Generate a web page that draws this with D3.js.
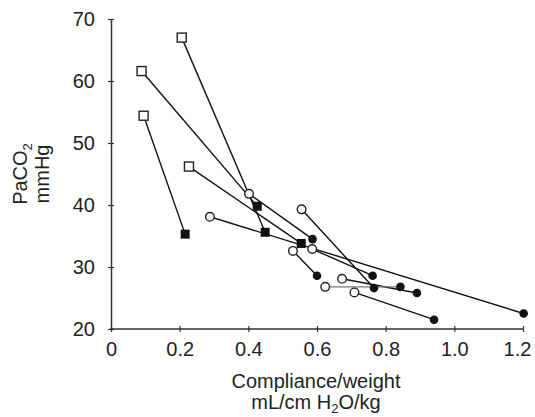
<!DOCTYPE html>
<html>
<head>
<meta charset="utf-8">
<script src="https://cdn.jsdelivr.net/npm/d3@7"></script>
<style>
  body { margin: 0; background: #fff; }
  text { font-family: "Liberation Sans", Arial, sans-serif; fill: #222; }
</style>
</head>
<body>
<div id="chart"></div>
<script>
// x = compliance/weight, y = PaCO2 ; pairs joined by index
const openSquares   = [[0.206, 67.0], [0.089, 61.6], [0.095, 54.4], [0.227, 46.2]];
const filledSquares = [[0.449, 35.6], [0.426, 39.8], [0.216, 35.3], [0.554, 33.8]];
const openCircles   = [[0.402, 41.8], [0.288, 38.1], [0.555, 39.3], [0.530, 32.6],
                       [0.586, 32.9], [0.673, 28.1], [0.624, 26.8], [0.709, 25.9]];
const filledCircles = [[0.587, 34.5], [1.202, 22.5], [0.766, 26.6], [0.600, 28.6],
                       [0.762, 28.6], [0.891, 25.8], [0.843, 26.8], [0.941, 21.5]];
const xTicks = [0, 0.2, 0.4, 0.6, 0.8, 1.0, 1.2];
const yTicks = [20, 30, 40, 50, 60, 70];

let w = 535;
let h = 417;

const xScale = d3.scaleLinear().domain([0, 1.2]).range([111, 523]);
const yScale = d3.scaleLinear().domain([20, 70]).range([329, 19]);

const svg = d3.select("#chart")
              .append("svg")
              .attr("width", w)
              .attr("height", h);

// axes
const xAxis = d3.axisBottom(xScale)
                .tickValues(xTicks)
                .tickSizeOuter(0)
                .tickSizeInner(3)
                .tickPadding(10)
                .tickFormat(d => d === 0 ? "0" : d.toFixed(1));

const yAxis = d3.axisLeft(yScale)
                .tickValues(yTicks)
                .tickSizeOuter(0)
                .tickSizeInner(3)
                .tickPadding(13);

const gx = svg.append("g")
   .attr("transform", "translate(0," + yScale(20) + ")")
   .call(xAxis);
gx.select(".domain").attr("d", "M" + (xScale(0) - 1) + ",0H" + xScale(1.2));

const gy = svg.append("g")
   .attr("transform", "translate(" + xScale(0) + ",0)")
   .call(yAxis);

[gx, gy].forEach(g => {
  g.select(".domain").attr("stroke", "#333").attr("stroke-width", 1.5);
  g.selectAll(".tick line").attr("stroke", "#333").attr("stroke-width", 1.2);
  g.selectAll(".tick text").attr("font-size", 20).attr("fill", "#222")
   .attr("font-family", "Liberation Sans, Arial, sans-serif");
});
gx.selectAll(".tick line").attr("y1", -3).attr("y2", 3);
gy.selectAll(".tick line").attr("x1", -3).attr("x2", 3);
// last label sits a little left so it stays inside the frame
gx.selectAll(".tick text").filter(d => d === 1.2).attr("dx", -6);

// connecting lines
const sqPairs = openSquares.map((d, i) => [d, filledSquares[i]]);
const ciPairs = openCircles.map((d, i) => [d, filledCircles[i]]);

svg.selectAll("line.link")
   .data(sqPairs.concat(ciPairs))
   .enter()
   .append("line")
   .attr("class", "link")
   .attr("x1", d => xScale(d[0][0]))
   .attr("y1", d => yScale(d[0][1]))
   .attr("x2", d => xScale(d[1][0]))
   .attr("y2", d => yScale(d[1][1]))
   .attr("stroke", (d, i) => i === 4 + 6 ? "#777" : "#111")
   .attr("stroke-width", 1.4);

// markers
const s = 9;
svg.selectAll("rect.open")
   .data(openSquares).enter().append("rect")
   .attr("x", d => xScale(d[0]) - s / 2)
   .attr("y", d => yScale(d[1]) - s / 2)
   .attr("width", s).attr("height", s)
   .attr("fill", "#fff").attr("stroke", "#222").attr("stroke-width", 1.4);

svg.selectAll("rect.filled")
   .data(filledSquares).enter().append("rect")
   .attr("x", d => xScale(d[0]) - s / 2)
   .attr("y", d => yScale(d[1]) - s / 2)
   .attr("width", s).attr("height", s)
   .attr("fill", "#111");

svg.selectAll("circle.open")
   .data(openCircles).enter().append("circle")
   .attr("cx", d => xScale(d[0]))
   .attr("cy", d => yScale(d[1]))
   .attr("r", 4.3)
   .attr("fill", "#fff").attr("stroke", "#222").attr("stroke-width", 1.4);

svg.selectAll("circle.filled")
   .data(filledCircles).enter().append("circle")
   .attr("cx", d => xScale(d[0]))
   .attr("cy", d => yScale(d[1]))
   .attr("r", 4.3)
   .attr("fill", "#111");

// titles
svg.append("text")
   .attr("x", 316).attr("y", 388)
   .attr("text-anchor", "middle").attr("font-size", 20)
   .text("Compliance/weight");

const xt2 = svg.append("text")
   .attr("x", 316).attr("y", 409)
   .attr("text-anchor", "middle").attr("font-size", 20);
xt2.append("tspan").text("mL/cm H");
xt2.append("tspan").attr("font-size", 13).attr("dy", 4).text("2");
xt2.append("tspan").attr("dy", -4).text("O/kg");

const yt = svg.append("text")
   .attr("transform", "translate(27,174) rotate(-90)")
   .attr("text-anchor", "middle").attr("font-size", 20);
yt.append("tspan").text("PaCO");
yt.append("tspan").attr("font-size", 13).attr("dy", 5).text("2");

svg.append("text")
   .attr("transform", "translate(49,174) rotate(-90)")
   .attr("text-anchor", "middle").attr("font-size", 20)
   .text("mmHg");
</script>
</body>
</html>
